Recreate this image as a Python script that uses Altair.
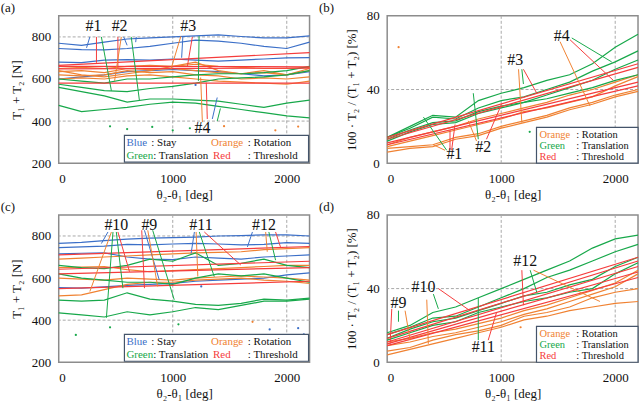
import altair as alt
import pandas as pd

FONT = "Liberation Serif, Times New Roman, serif"
C_BLUE = "#3b6fc8"
C_ORANGE = "#f08232"
C_GREEN = "#17a84a"
C_RED = "#f53c3c"
KINDS = ["blue", "orange", "green", "red"]
KCOLORS = [C_BLUE, C_ORANGE, C_GREEN, C_RED]

# x positions (deg) of the sampled curve values
XS = [0, 200, 400, 600, 800, 1000, 1200, 1400, 1600, 1800, 2000, 2200]
XENDS = [0, 2200]

# ---------------- panel (a): T1 + T2 [N]
A_BLUE = [
    [770, 760, 775, 790, 795, 800, 805, 810, 802, 795, 795, 805],
    [745, 740, 738, 745, 755, 770, 785, 780, 770, 755, 745, 775],
    [680, 678, 690, 692, 690, 695, 690, 685, 690, 695, 700, 702],
    [600, 610, 620, 635, 640, 645, 640, 635, 625, 615, 620, 635],
]
A_ORANGE = [
    [650, 655, 650, 660, 665, 660, 670, 660, 655, 650, 650, 655],
    [635, 640, 630, 650, 645, 650, 640, 630, 625, 630, 620, 640],
    [620, 615, 620, 640, 630, 635, 620, 615, 600, 605, 600, 610],
    [600, 605, 600, 615, 620, 610, 600, 590, 585, 580, 575, 590],
    [640, 620, 610, 625, 640, 660, 680, 640, 625, 640, 620, 650],
]
A_GREEN = [
    [475, 445, 455, 465, 480, 490, 485, 470, 455, 440, 425, 415],
    [560, 540, 520, 490, 505, 505, 500, 495, 480, 465, 485, 500],
    [575, 560, 545, 540, 555, 565, 580, 600, 605, 610, 620, 640],
    [600, 590, 580, 600, 600, 610, 620, 625, 625, 630, 640, 660],
]
A_RED = [[665, 725], [660, 658], [648, 652], [580, 580]]
A_DOTS = [("green", 450, 375), ("green", 600, 362), ("green", 820, 372), ("green", 1000, 356),
          ("green", 1150, 366), ("orange", 1300, 362), ("orange", 1450, 376),
          ("orange", 1900, 356), ("orange", 2100, 374), ("blue", 2000, 328), ("blue", 1200, 572)]

# ---------------- panel (b): 100*T2/(T1+T2) [%]
B_ORANGE = [
    [10, 14, 17, 20, 24, 27, 30, 33, 37, 40, 44, 48],
    [9, 12, 15, 18, 21, 24, 28, 30, 33, 36, 42, 47],
    [8, 9, 10, 14, 16, 20, 23, 26, 30, 33, 37, 40],
    [6, 8, 9, 13, 15, 19, 22, 25, 29, 32, 36, 39],
]
B_GREEN = [
    [14, 20, 26, 25, 34, 38, 41, 45, 48, 54, 63, 70],
    [14, 19, 25, 24, 30, 34, 36, 40, 44, 50, 55, 61],
    [13, 18, 22, 23, 28, 31, 33, 37, 41, 45, 51, 56],
    [12, 17, 21, 22, 27, 30, 33, 35, 38, 41, 45, 48],
]
B_RED = [[14, 54], [13, 52], [11, 44], [10, 42]]
B_DOTS = [("orange", 100, 63), ("green", 1250, 17), ("green", 1430, 13)]

# ---------------- panel (c)
C_BLUE_V = [
    [765, 770, 778, 785, 790, 792, 795, 800, 802, 805, 805, 800],
    [745, 748, 752, 760, 758, 762, 765, 762, 758, 760, 768, 765],
    [715, 718, 720, 700, 690, 688, 700, 695, 690, 700, 705, 710],
    [555, 552, 558, 565, 570, 575, 585, 590, 595, 600, 615, 625],
]
C_ORANGE_V = [
    [690, 695, 700, 705, 710, 715, 720, 722, 725, 735, 740, 745],
    [650, 652, 655, 640, 630, 635, 640, 645, 650, 655, 660, 660],
    [600, 595, 590, 600, 595, 590, 600, 605, 610, 605, 600, 590],
    [515, 520, 545, 570, 580, 580, 590, 595, 600, 590, 585, 575],
]
C_GREEN_V = [
    [435, 425, 415, 440, 425, 440, 460, 450, 470, 490, 490, 500],
    [495, 490, 495, 530, 500, 490, 475, 470, 480, 500, 495, 505],
    [660, 650, 645, 660, 690, 680, 720, 660, 670, 690, 660, 650],
    [620, 600, 590, 580, 580, 570, 600, 620, 610, 620, 600, 580],
]
C_RED_V = [[710, 750], [642, 680], [620, 650], [550, 585]]
C_DOTS = [("green", 150, 330), ("green", 450, 366), ("green", 1050, 380), ("blue", 1850, 356),
          ("blue", 2100, 362), ("blue", 2150, 332), ("orange", 1700, 392), ("blue", 1250, 560)]

# ---------------- panel (d)
D_ORANGE = [
    [11, 13, 16, 18, 21, 24, 28, 31, 35, 39, 43, 50],
    [9, 11, 14, 16, 19, 22, 26, 29, 33, 37, 41, 48],
    [6, 8, 12, 15, 17, 20, 25, 27, 30, 35, 38, 40],
    [4, 7, 10, 13, 16, 19, 23, 25, 28, 30, 32, 33],
]
D_GREEN = [
    [16, 20, 27, 30, 35, 40, 45, 50, 55, 62, 67, 69],
    [15, 19, 24, 25, 30, 35, 40, 46, 50, 55, 60, 64],
    [13, 18, 22, 24, 28, 32, 36, 38, 42, 45, 52, 57],
    [12, 16, 20, 22, 27, 30, 33, 35, 38, 40, 48, 54],
]
D_RED = [[15, 57], [13, 55], [11, 52], [10, 49], [9, 46]]
D_DOTS = [("orange", 1170, 19)]

# ---------------- annotations: (text, x, y) and leader lines (color, x, y, x2, y2)
A_LABELS = [("#1", 305, 852), ("#2", 534, 852), ("#3", 1135, 852), ("#4", 1260, 368)]
A_LEADERS = [
    ("blue", 273, 800, 244, 748), ("red", 331, 800, 331, 677), ("green", 374, 800, 462, 544),
    ("red", 519, 800, 519, 654), ("orange", 549, 800, 490, 591), ("blue", 570, 800, 600, 760),
    ("blue", 680, 800, 675, 775), ("green", 636, 800, 708, 497),
    ("orange", 1071, 803, 984, 646), ("blue", 1089, 803, 1078, 701),
    ("red", 1172, 800, 1129, 662), ("green", 1231, 803, 1225, 591),
    ("orange", 1260, 395, 1245, 607), ("red", 1303, 410, 1294, 583),
    ("blue", 1347, 410, 1390, 512), ("green", 1390, 400, 1418, 460),
]
B_LABELS = [("#1", 589, 5), ("#2", 842, 9), ("#3", 1123, 56), ("#4", 1531, 69)]
B_LEADERS = [
    ("green", 522, 7, 318, 25), ("orange", 507, 7, 405, 10),
    ("red", 551, 7, 551, 18), ("red", 565, 7, 595, 21),
    ("green", 799, 13, 755, 38), ("orange", 784, 12, 711, 23), ("red", 871, 13, 1003, 32),
    ("orange", 1152, 51, 1181, 22), ("green", 1181, 51, 1195, 43), ("red", 1195, 51, 1312, 38),
    ("orange", 1516, 66, 1779, 31), ("red", 1604, 67, 1983, 45), ("green", 1619, 68, 1969, 55),
]
C_LABELS = [("#10", 505, 852), ("#9", 795, 852), ("#11", 1248, 852), ("#12", 1800, 852)]
C_LEADERS = [
    ("blue", 432, 819, 374, 764), ("orange", 462, 819, 273, 536), ("green", 476, 819, 418, 411),
    ("green", 505, 819, 563, 552), ("red", 519, 819, 621, 630),
    ("red", 728, 827, 752, 552), ("blue", 752, 827, 882, 591),
    ("orange", 781, 827, 868, 560), ("green", 824, 827, 1013, 497),
    ("blue", 1190, 819, 1161, 717), ("orange", 1205, 819, 1220, 607),
    ("green", 1233, 819, 1364, 607), ("red", 1277, 819, 1597, 662),
    ("blue", 1699, 819, 1655, 748), ("orange", 1815, 819, 1829, 725),
    ("green", 1843, 819, 1902, 685), ("red", 1902, 819, 1945, 748),
]
D_LABELS = [("#9", 99, 32), ("#10", 318, 41), ("#11", 843, 8), ("#12", 1210, 55)]
D_LEADERS = [
    ("red", 40, 29, 26, 10), ("green", 99, 28, 99, 22), ("orange", 157, 28, 201, 12),
    ("orange", 347, 34, 361, 10), ("green", 405, 37, 449, 29), ("red", 449, 40, 726, 28),
    ("green", 799, 12, 799, 35), ("red", 886, 12, 959, 27),
    ("red", 1181, 50, 1195, 31), ("green", 1254, 50, 1312, 38), ("orange", 1283, 50, 1866, 33),
]

XGRID = [1000, 2000]
GRID_N = [400, 800]
GRID_P = [40]


def curves_df(groups):
    rows = []
    n = 0
    for kind, series in groups:
        for vals in series:
            xs = XS if len(vals) == len(XS) else XENDS
            for x, y in zip(xs, vals):
                rows.append({"sid": f"s{n}", "kind": kind, "x": x, "y": y})
            n += 1
    return pd.DataFrame(rows)


COLOR = alt.Color("kind:N", scale=alt.Scale(domain=KINDS, range=KCOLORS), legend=None)


def panel(letter, groups, dots, labels, leaders, ydom, yticks, ygrid, ytitle, legend_rows,
          legend_box, letter_dx, legend_size):
    xscale = alt.Scale(domain=[0, 2200], nice=False, zero=False)
    yscale = alt.Scale(domain=ydom, nice=False, zero=False)
    xax = alt.Axis(values=[0, 1000, 2000], format="d", title="θ₂-θ₁ [deg]", grid=False,
                   ticks=False, domain=False, labelPadding=9, titlePadding=3)
    yax = alt.Axis(values=yticks, format="d", title=ytitle, grid=False, ticks=False,
                   domain=False, labelPadding=8, titlePadding=8)
    X = alt.X("x:Q", scale=xscale, axis=xax)
    Y = alt.Y("y:Q", scale=yscale, axis=yax)

    vgrid = alt.Chart(pd.DataFrame({"x": XGRID})).mark_rule(
        color="#a8a8a8", strokeDash=[3, 2], strokeWidth=1).encode(x=X)
    hgrid = alt.Chart(pd.DataFrame({"y": ygrid})).mark_rule(
        color="#a8a8a8", strokeDash=[3, 2], strokeWidth=1).encode(y=Y)

    lines = alt.Chart(curves_df(groups)).mark_line(strokeWidth=1.2).encode(
        x=X, y=Y, color=COLOR, detail="sid:N")

    ddf = pd.DataFrame(dots, columns=["kind", "x", "y"])
    pts = alt.Chart(ddf).mark_point(filled=True, size=5, opacity=1).encode(
        x=X, y=Y, color=COLOR)

    ldf = pd.DataFrame(leaders, columns=["kind", "x", "y", "x2", "y2"])
    lead = alt.Chart(ldf).mark_rule(strokeWidth=1).encode(
        x=X, y=Y, x2="x2:Q", y2="y2:Q", color=COLOR)

    tdf = pd.DataFrame(labels, columns=["t", "x", "y"])
    txt = alt.Chart(tdf).mark_text(fontSize=16, font=FONT, color="#111").encode(
        x=X, y=Y, text="t:N")

    one = pd.DataFrame({"t": [letter]})
    let = alt.Chart(one).mark_text(fontSize=13, font=FONT, color="#111").encode(
        x=alt.value(letter_dx), y=alt.value(-8), text="t:N")

    bx, bx2, by, by2 = legend_box
    box = alt.Chart(one).mark_rect(fill="white", stroke="#44546a", strokeWidth=1.2).encode(
        x=alt.value(bx), x2=alt.value(bx2), y=alt.value(by), y2=alt.value(by2))

    layers = [vgrid, hgrid, pts, lines, lead, txt, let, box]
    for (t, col, px, py) in legend_rows:
        layers.append(
            alt.Chart(pd.DataFrame({"t": [t]})).mark_text(
                fontSize=legend_size, font=FONT, align="left", baseline="middle", color=col
            ).encode(x=alt.value(px), y=alt.value(py), text="t:N")
        )
    return alt.layer(*layers).properties(width=252, height=148)


LEG_N = [
    ("Blue", C_BLUE, 68, 128), (": Stay", "#111", 93, 128),
    ("Orange", C_ORANGE, 153, 128), (": Rotation", "#111", 190, 128),
    ("Green", C_GREEN, 68, 140.5), (": Translation", "#111", 95, 140.5),
    ("Red", C_RED, 155, 140.5), (": Threshold", "#111", 190, 140.5),
]
LEG_P = [
    ("Orange", C_ORANGE, 153, 119.5), (": Rotation", "#111", 190, 119.5),
    ("Green", C_GREEN, 153, 130.5), (": Translation", "#111", 190, 130.5),
    ("Red", C_RED, 153, 141.5), (": Threshold", "#111", 190, 141.5),
]
TN = "T₁ + T₂ [N]"
TP = "100 · T₂ / (T₁ + T₂) [%]"

pa = panel("(a)", [("blue", A_BLUE), ("orange", A_ORANGE), ("green", A_GREEN), ("red", A_RED)],
           A_DOTS, A_LABELS, A_LEADERS, [200, 900], [200, 400, 600, 800], GRID_N, TN, LEG_N,
           (66, 251, 120, 147), -51, 11)
pb = panel("(b)", [("orange", B_ORANGE), ("green", B_GREEN), ("red", B_RED)],
           B_DOTS, B_LABELS, B_LEADERS, [0, 80], [0, 40, 80], GRID_P, TP, LEG_P,
           (150, 252, 112, 148), -61, 10.5)
pc = panel("(c)", [("blue", C_BLUE_V), ("orange", C_ORANGE_V), ("green", C_GREEN_V), ("red", C_RED_V)],
           C_DOTS, C_LABELS, C_LEADERS, [200, 900], [200, 400, 600, 800], GRID_N, TN, LEG_N,
           (66, 251, 120, 147), -51, 11)
pd_ = panel("(d)", [("orange", D_ORANGE), ("green", D_GREEN), ("red", D_RED)],
            D_DOTS, D_LABELS, D_LEADERS, [0, 80], [0, 40, 80], GRID_P, TP, LEG_P,
            (150, 252, 112, 148), -61, 10.5)

chart = alt.concat(
    pa, pb, pc, pd_, columns=2, spacing={"row": 52, "column": 78}, bounds="flush"
).properties(
    padding={"left": 0, "top": 0, "right": 0, "bottom": 0},
    background="white",
).configure_view(
    stroke="#8c8c8c", strokeWidth=1.5
).configure_axis(
    labelFont=FONT, titleFont=FONT, labelFontSize=13, titleFontSize=13,
    labelColor="#111", titleColor="#111", titleFontWeight="normal",
)

chart.save("out.html", embed_options={"renderer": "svg", "actions": False})
